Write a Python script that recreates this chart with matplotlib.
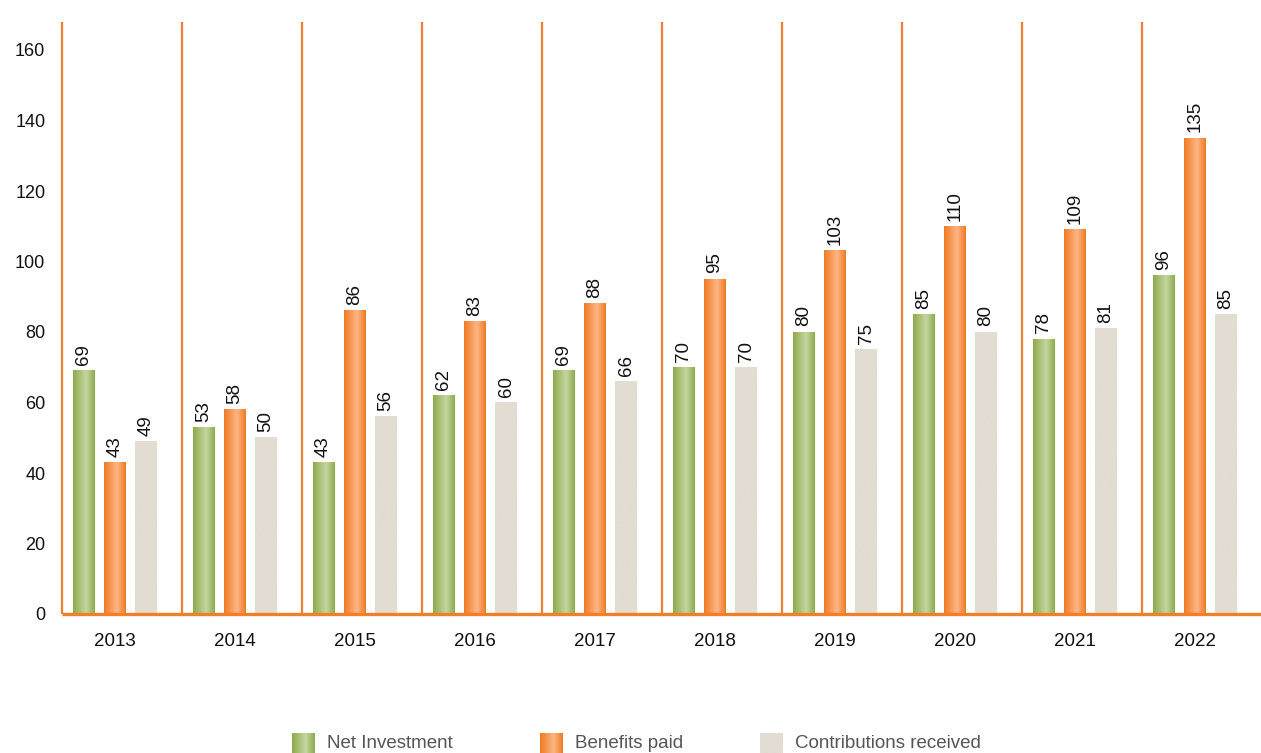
import numpy as np
import matplotlib.pyplot as plt
from matplotlib.colors import LinearSegmentedColormap

plt.rcParams['font.family'] = ['Liberation Sans', 'DejaVu Sans']

years = ['2013', '2014', '2015', '2016', '2017', '2018', '2019', '2020', '2021', '2022']
net_investment = [69, 53, 43, 62, 69, 70, 80, 85, 78, 96]
benefits_paid = [43, 58, 86, 83, 88, 95, 103, 110, 109, 135]
contributions = [49, 50, 56, 60, 66, 70, 75, 80, 81, 85]
series_names = ['Net Investment', 'Benefits paid', 'Contributions received']

ORANGE = '#f07f2a'
green_cmap = LinearSegmentedColormap.from_list('g', ['#8dab4c', '#c6d6a2', '#8dab4c'])
orange_cmap = LinearSegmentedColormap.from_list('o', ['#f07a22', '#fcb686', '#f07a22'])
beige_cmap = LinearSegmentedColormap.from_list('b', ['#e2dcd2', '#e2dcd2'])
cmaps = [green_cmap, orange_cmap, beige_cmap]

# horizontal shading, light band a bit right of centre
t = np.linspace(0, 1, 64)
grad = np.clip(np.where(t < 0.6, t / 0.6 * 0.5, 0.5 + (t - 0.6) / 0.4 * 0.5), 0, 1)[None, :]

fig = plt.figure(figsize=(12.61, 7.53), dpi=100)
ax = fig.add_axes([62 / 1261, 139 / 753, 1200 / 1261, 599.25 / 753])

x = np.arange(len(years))
bar_w = 0.18
offsets = [-0.26, 0.0, 0.26]
shift = -0.06

for k, vals in enumerate([net_investment, benefits_paid, contributions]):
    for xi, v in zip(x, vals):
        cx = xi + shift + offsets[k]
        ax.imshow(grad, cmap=cmaps[k], vmin=0, vmax=1, aspect='auto',
                  extent=(cx - bar_w / 2, cx + bar_w / 2, 0, v), zorder=2,
                  interpolation='bilinear')
        ax.text(cx, v + 1.6, str(v), rotation=90, ha='center', va='bottom',
                fontsize=13.5, color='#111111')

# group separators
for xi in x:
    ax.plot([xi - 0.5, xi - 0.5], [0, 168], color=ORANGE, lw=1.6, zorder=3,
            solid_capstyle='butt', clip_on=False)
ax.plot([-0.5, len(years) - 0.5], [0, 0], color=ORANGE, lw=2.4, zorder=3,
        clip_on=False, solid_capstyle='butt')

ax.set_xlim(-0.5, len(years) - 0.5)
ax.set_ylim(0, 170)
ax.set_yticks(range(0, 161, 20))
ax.set_xticks(x + shift)
ax.set_xticklabels(years)
ax.tick_params(length=0, labelsize=13, colors='#111111')
ax.tick_params(axis='x', pad=14, labelsize=13.5)
ax.tick_params(axis='y', pad=12)
for s in ax.spines.values():
    s.set_visible(False)

# legend drawn in pixel space along the bottom edge
lax = fig.add_axes([0, 0, 1, 1], zorder=-1)
lax.axis('off')
legend_x = [292, 540, 760]
for k, name in enumerate(series_names):
    lx = legend_x[k]
    lax.imshow(grad, cmap=cmaps[k], vmin=0, vmax=1, aspect='auto',
               extent=(lx, lx + 23, 753, 733), interpolation='bilinear')
    lax.text(lx + 35, 744, name, fontsize=13.5, color='#555555', va='center', ha='left')
lax.set_xlim(0, 1261)
lax.set_ylim(753, 0)

fig.savefig('out.png', dpi=100)
